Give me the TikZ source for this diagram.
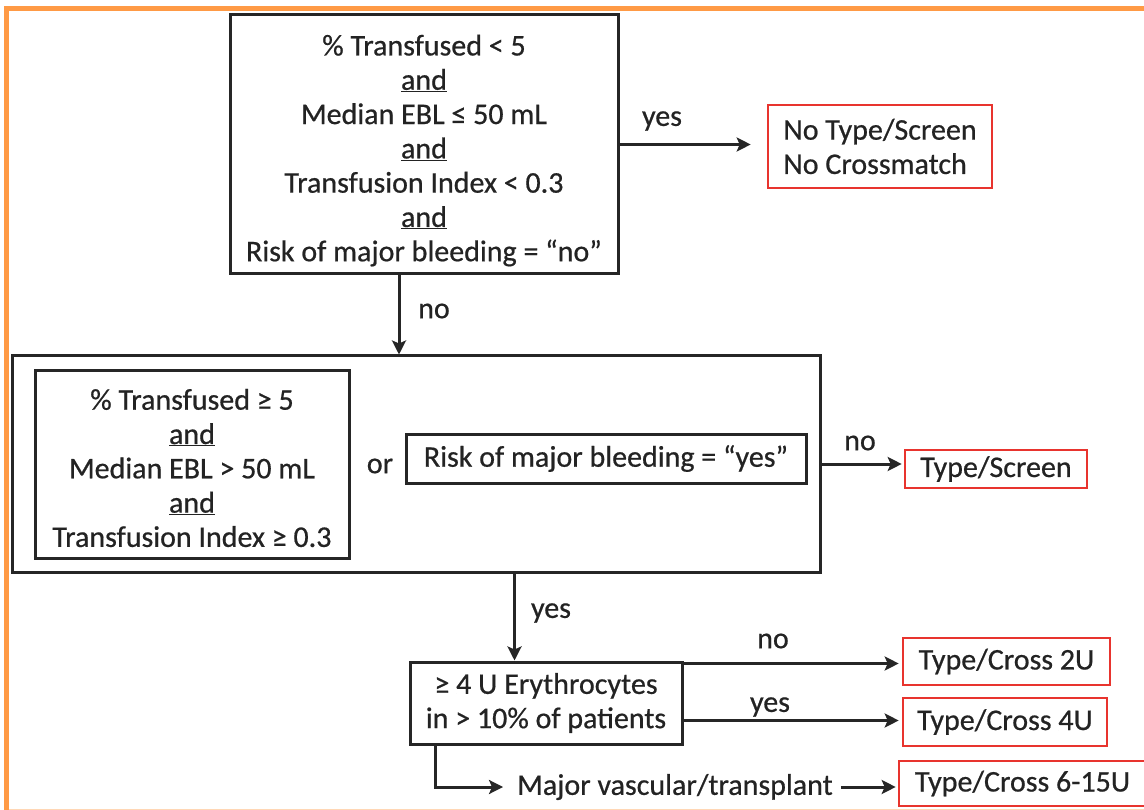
\documentclass[tikz,border=0pt]{standalone}
\usepackage{fontspec}
\setmainfont{Carlito}[FakeBold=0.6]
\usetikzlibrary{arrows.meta,calc}
\definecolor{frameor}{RGB}{255,154,69}
\definecolor{redb}{RGB}{232,52,46}
\definecolor{txt}{RGB}{35,35,35}
\begin{document}
\begin{tikzpicture}[x=1pt,y=-1pt,
 every node/.style={font=\fontsize{30}{34.3}\selectfont, text=txt},
 blk/.style={draw=black!85, line width=3pt, inner sep=0pt, align=center},
 redbox/.style={draw=redb, line width=2.6pt, inner sep=0pt, align=center},
 lbl/.style={inner sep=0pt, align=center},
 arr/.style={line width=3pt, draw=black!85, -{Stealth[length=14pt,width=14pt,inset=3pt]}},
]
\useasboundingbox (0,0) rectangle (1144,810);
\fill[white] (0,0) rectangle (1144,810);
\draw[frameor, line width=5pt] (6.5,815) -- (6.5,8.5) -- (1150,8.5);
\draw[frameor!40, line width=1.5pt] (9,809.5) -- (1150,809.5);

% top decision
\node[blk, minimum width=388pt, minimum height=259pt] (top) at (424,144.5) {};
\node[lbl] (toptext) at (424,150.5)
 {\% Transfused < 5\\\underline{and}\\Median EBL ≤ 50 mL\\\underline{and}\\Transfusion Index < 0.3\\\underline{and}\\Risk of major bleeding = “no”};
\node[redbox, minimum width=224pt, minimum height=83pt, align=left] (nts) at (880,146.5)
 {No Type/Screen\\No Crossmatch};
\draw[arr, shorten >=16pt] (top.east) -- (top.east -| nts.west);
\node[lbl] (lyes1) at (662,121) {yes};

% big box
\node[blk, minimum width=808pt, minimum height=216pt] (big) at (416,464) {};
\coordinate (a1) at ($(top.south)+(-25,0)$);
\draw[arr] (a1) -- (a1 |- big.north);
\node[lbl] (lno1) at (434,311) {no};

\node[blk, minimum width=314pt, minimum height=187pt] (left) at (192,464.5) {};
\node[lbl] (lefttext) at (192,468)
 {\% Transfused ≥ 5\\\underline{and}\\Median EBL > 50 mL\\\underline{and}\\Transfusion Index ≥ 0.3};
\node[lbl] (or) at (380,466) {or};
\node[blk, minimum width=400pt, minimum height=49pt] (risk) at (606,458.5)
 {Risk of major bleeding = “yes”};

\node[redbox, minimum width=182pt, minimum height=38pt] (ts) at (996,469) {Type/Screen};
\draw[arr, shorten >=2pt] (big.east) -- (big.east -| ts.west);
\node[lbl] (lno2) at (860,443) {no};

% erythrocytes
\node[blk, minimum width=272pt, minimum height=82pt] (ery) at (546,703)
 {≥ 4 U Erythrocytes\\in > 10\% of patients};
\coordinate (a3) at ($(ery.north west)+(106,0)$);
\draw[arr] (big.south -| a3) -- (a3);
\node[lbl] (lyes2) at (551,613) {yes};

\node[redbox, minimum width=207pt, minimum height=47pt] (c2) at (1006.5,661.5) {Type/Cross 2U};
\node[redbox, minimum width=204pt, minimum height=48pt] (c4) at (1005,722) {Type/Cross 4U};
\node[redbox, minimum width=247pt, minimum height=45pt] (c6) at (1022.5,783.5) {Type/Cross 6-15U};

\coordinate (b1) at ($(ery.north east)+(0,3)$);
\draw[arr, shorten >=3pt] (b1) -- (b1 -| c2.west);
\node[lbl] (lno3) at (773,641) {no};
\coordinate (b2) at ($(ery.north east)+(0,60)$);
\draw[arr, shorten >=3pt] (b2) -- (b2 -| c4.west);
\node[lbl] (lyes3) at (770,707) {yes};

\node[lbl] (mv) at (675,787) {Major vascular/transplant};
\coordinate (b3) at ($(ery.south west)+(27,0)$);
\draw[arr, shorten >=14pt] (b3) |- (mv.west);
\draw[arr, shorten <=8pt, shorten >=2pt] (mv.east) -- (mv.east -| c6.west);
\end{tikzpicture}
\end{document}
